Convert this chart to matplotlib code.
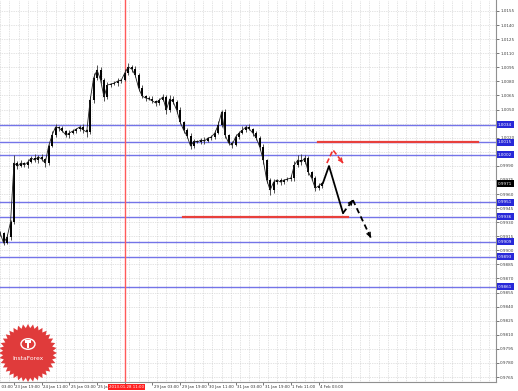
import numpy as np
import matplotlib.pyplot as plt
import matplotlib.transforms as mtransforms
from matplotlib.patches import Polygon, Circle

# H2 closes, first bar at 8 trading hours after 23 Jan 03:00
closes = [
    0.99183, 0.99077, 0.99141, 0.99301, 0.99930, 0.99898, 0.99930, 0.99909,
    0.99941, 0.99983, 0.99962, 0.99994, 0.99973, 0.99930, 1.00111, 1.00228,
    1.00314, 1.00303, 1.00271, 1.00228, 1.00250, 1.00271, 1.00292, 1.00314,
    1.00282, 1.00261, 1.00601, 1.00836, 1.00921, 1.00814, 1.00633, 1.00761,
    1.00772, 1.00782, 1.00804, 1.00814, 1.00889, 1.00953, 1.00932, 1.00868,
    1.00729, 1.00644, 1.00623, 1.00612, 1.00591, 1.00569, 1.00601, 1.00633,
    1.00494, 1.00612, 1.00580, 1.00494, 1.00367, 1.00281, 1.00218, 1.00111,
    1.00164, 1.00154, 1.00175, 1.00164, 1.00196, 1.00207, 1.00249, 1.00335,
    1.00474, 1.00228, 1.00143, 1.00121, 1.00207, 1.00249, 1.00281, 1.00314,
    1.00292, 1.00249, 1.00196, 1.00100, 0.99962, 0.99749, 0.99642, 0.99727,
    0.99749, 0.99727, 0.99749, 0.99759, 0.99770, 0.99909, 0.99962, 0.99941,
    0.99983, 0.99834, 0.99770, 0.99663, 0.99685, 0.99717,
]
# wick lengths in pips above / below the candle body
upper_wick = [
    2, 1, 3, 2, 9, 2, 3, 1, 3, 2, 4, 2, 3, 1, 2, 4,
    3, 1, 2, 1, 3, 2, 1, 2, 3, 1, 4, 5, 5, 3, 2, 3,
    1, 2, 3, 1, 4, 4, 2, 3, 2, 3, 1, 2, 3, 1, 2, 3,
    2, 4, 3, 2, 3, 1, 2, 3, 2, 1, 2, 3, 1, 2, 3, 4,
    2, 3, 1, 2, 3, 2, 4, 2, 3, 1, 2, 2, 3, 1, 2, 3,
    1, 2, 1, 2, 3, 4, 5, 6, 3, 2, 1, 2, 3, 1,
]
lower_wick = [
    3, 2, 1, 3, 2, 3, 1, 2, 3, 1, 2, 3, 2, 4, 2, 1,
    2, 3, 1, 2, 3, 1, 2, 2, 3, 5, 2, 3, 2, 3, 4, 2,
    2, 1, 3, 2, 1, 2, 3, 2, 3, 2, 3, 1, 2, 3, 2, 1,
    4, 2, 2, 3, 2, 3, 2, 3, 2, 1, 2, 3, 1, 2, 2, 1,
    2, 3, 2, 3, 1, 2, 1, 2, 1, 3, 2, 3, 4, 3, 5, 3,
    2, 3, 2, 1, 2, 3, 2, 3, 2, 3, 2, 3, 2, 2,
]
first_hour = 8
bar_step = 2

tick_hours = [0, 16, 32, 48, 64, 80, 96, 112, 128, 144, 160, 176, 192]
tick_labels = ["23 Jan 03:00", "23 Jan 19:00", "24 Jan 11:00", "25 Jan 03:00",
               "25 Jan 19:00", "28 Jan 11:00", "29 Jan 03:00", "29 Jan 19:00",
               "30 Jan 11:00", "31 Jan 03:00", "31 Jan 19:00", "1 Feb 11:00",
               "4 Feb 03:00"]
cursor_hour = 80
cursor_label = "2013.01.28 11:00"

price_ticks = [round(0.9765 + 0.0015 * k, 4) for k in range(27)]
levels = [1.0034, 1.0015, 1.0002, 0.9951, 0.9936, 0.9909, 0.9893, 0.9861]
last_price = 0.9971

# red resistance / support segments: price, start hour, end hour
red_levels = [(1.0015, 191.6, 284.0), (0.9936, 113.6, 209.0)]

# forecast paths
solid_h = [194.5, 198.0, 206.1]
solid_p = [0.99717, 0.99898, 0.99397]
dash1_h = [206.1, 211.8]
dash1_p = [0.99397, 0.99535]
dash2_h = [211.8, 222.8]
dash2_p = [0.99535, 0.99109]
red_h = [196.8, 200.3, 206.1]
red_p = [0.99930, 1.00069, 0.99930]

W, H = 518, 391
fig = plt.figure(figsize=(W / 100, H / 100), dpi=100)
fig.patch.set_facecolor("white")
ax = fig.add_axes([0, 9 / H, 496 / W, 382 / H])
ax.set_xlim(7.9, 294.5)
ax.set_ylim(0.97597, 1.01667)

# grid
for p in price_ticks:
    ax.axhline(p, color="#c8c8c8", lw=0.5, ls=(0, (1, 1.5)), zorder=0)
for g in np.arange(8 / 3, 295, 16 / 3):
    ax.axvline(g, color="#c8c8c8", lw=0.5, ls=(0, (1, 1.5)), zorder=0)

# levels
for lv in levels:
    ax.axhline(lv, color="#7474e8", lw=1.0, zorder=1)
for p, h0, h1 in red_levels:
    ax.plot([h0, h1], [p, p], color="#e8403c", lw=1.6, zorder=2)

ax.axvline(cursor_hour, color="#ff5a5a", lw=1.0, zorder=2)

# price bars
hours = first_hour + bar_step * np.arange(len(closes))
opens = np.array([closes[0]] + closes[:-1])
cl = np.array(closes)
body_lo = np.minimum(opens, cl)
body_hi = np.maximum(opens, cl)
highs = body_hi + np.array(upper_wick) * 0.0001
lows = body_lo - np.array(lower_wick) * 0.0001
ax.vlines(hours, lows, highs, color="#333333", lw=0.6, zorder=3)
ax.vlines(hours, body_lo, body_hi, color="black", lw=1.4, zorder=3)
ax.plot(hours, closes, color="#222222", lw=0.6, zorder=3)

# forecast arrows
def arrow_head(ax, hs, ps, color):
    x1, y1 = hs[-1], ps[-1]
    x0 = x1 - (hs[-1] - hs[-2]) * 0.25
    y0 = y1 - (ps[-1] - ps[-2]) * 0.25
    ax.annotate("", xy=(x1, y1), xytext=(x0, y0),
                arrowprops=dict(arrowstyle="->", color=color, lw=1.1,
                                mutation_scale=6), zorder=5)

ax.plot(solid_h, solid_p, color="black", lw=1.3, zorder=4)
ax.plot(dash1_h, dash1_p, color="black", lw=1.3, ls=(0, (3, 2)), zorder=4)
arrow_head(ax, dash1_h, dash1_p, "black")
ax.plot(dash2_h, dash2_p, color="black", lw=1.3, ls=(0, (3, 2)), zorder=4)
arrow_head(ax, dash2_h, dash2_p, "black")
ax.plot(red_h, red_p, color="#f03030", lw=1.2, ls=(0, (3, 1.5)), zorder=4)
arrow_head(ax, red_h, red_p, "#f03030")

# axes styling
for s in ["top", "left"]:
    ax.spines[s].set_visible(False)
for s in ["right", "bottom"]:
    ax.spines[s].set_color("#909090")
    ax.spines[s].set_linewidth(0.8)
ax.yaxis.tick_right()
ax.set_yticks(price_ticks)
# labels hidden behind the level boxes are left empty
ax.set_yticklabels([f"{p:.4f}" if min(abs(p - lv) for lv in levels) > 0.0004 else ""
                    for p in price_ticks])
ax.tick_params(axis="y", labelsize=3.0, length=2, width=0.5, pad=1,
               colors="#404040")
ax.set_xticks([t for t in tick_hours if t > 7.9])
ax.set_xticklabels([])
ax.tick_params(axis="x", length=2, width=0.5, colors="#404040")

xt = mtransforms.blended_transform_factory(ax.transData, ax.transAxes)
for t, lab in zip(tick_hours, tick_labels):
    if t == cursor_hour:
        continue  # covered by the cursor box
    ax.text(t + 0.8, -0.008, lab, transform=xt, ha="left", va="top",
            fontsize=2.8, color="#303030", clip_on=False)
ax.text(cursor_hour + 1, -0.008, cursor_label, transform=xt, ha="center",
        va="top", fontsize=2.8, color="white", clip_on=False, zorder=6,
        bbox=dict(boxstyle="square,pad=0.25", fc="#ff2020", ec="none"))

yt = mtransforms.blended_transform_factory(ax.transAxes, ax.transData)
for lv in levels:
    ax.text(1.004, lv, f"{lv:.4f}", transform=yt, ha="left", va="center",
            fontsize=3.0, color="white", clip_on=False, zorder=6,
            bbox=dict(boxstyle="square,pad=0.35", fc="#2828d8", ec="none"))
ax.text(1.004, last_price, f"{last_price:.4f}", transform=yt, ha="left",
        va="center", fontsize=3.0, color="white", clip_on=False, zorder=6,
        bbox=dict(boxstyle="square,pad=0.35", fc="black", ec="none"))

# InstaForex badge
cx, cy = 28 / W, 1 - 353 / H
n = 36
ang = np.linspace(0, 2 * np.pi, 2 * n, endpoint=False)
rad = np.where(np.arange(2 * n) % 2 == 0, 29, 25)
pts = np.column_stack([cx + rad * np.cos(ang) / W, cy + rad * np.sin(ang) / H])
fig.add_artist(Polygon(pts, closed=True, transform=fig.transFigure,
                       fc="#e03b3b", ec="none", zorder=10))
ring_w = 14 / W
fig.add_artist(Circle((cx, cy + 9 / H), 0.5 * ring_w, transform=fig.transFigure,
                      fc="none", ec="white", lw=1.0, zorder=11))
logo = Polygon(np.column_stack([cx + np.array([-3, 3, 3, 1, 1, -1, -1, -3]) / W,
                                cy + np.array([13, 13, 10, 10, 5, 5, 10, 10]) / H]),
               closed=True, transform=fig.transFigure, fc="white", ec="none",
               zorder=11)
fig.add_artist(logo)
fig.text(cx, cy - 6 / H, "InstaForex", ha="center", va="center",
         fontsize=4.3, color="white", zorder=12)

fig.savefig("out.png", dpi=100)
